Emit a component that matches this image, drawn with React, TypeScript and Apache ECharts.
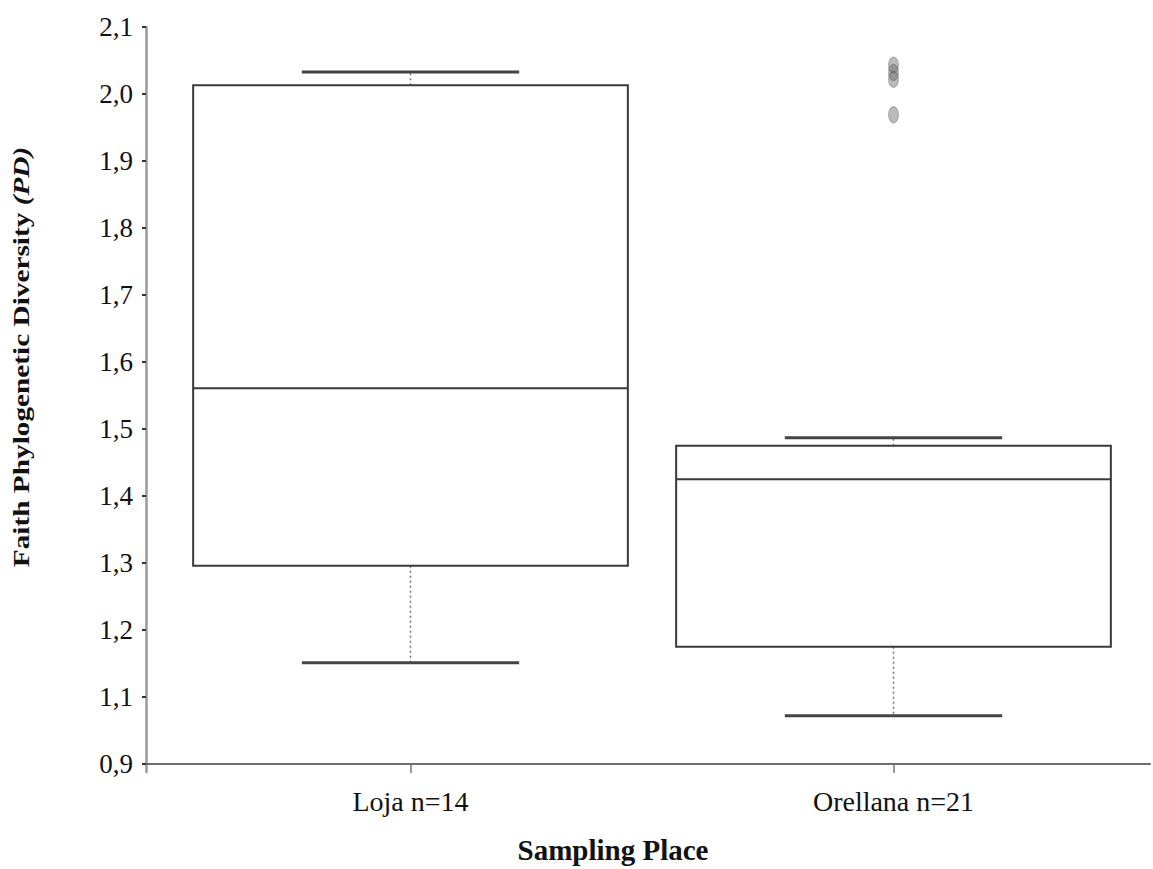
import React, { useEffect, useRef } from "react";
import * as echarts from "echarts";

const categories = ["Loja n=14", "Orellana n=21"];
const whiskerLow = [1.151, 1.072];
const q1 = [1.296, 1.175];
const median = [1.561, 1.425];
const q3 = [2.013, 1.475];
const whiskerHigh = [2.033, 1.487];
const outliers: [number, number][] = [
  [1, 2.043],
  [1, 2.032],
  [1, 2.022],
  [1, 1.969],
];
// tick labels at 1.0 ... 2.1 (bottom tick labelled "0,9" as in the original broken axis)
const yTickLabels = ["0,9", "1,1", "1,2", "1,3", "1,4", "1,5", "1,6", "1,7", "1,8", "1,9", "2,0", "2,1"];
const yMin = 1.0;
const yMax = 2.1;
const yStep = 0.1;

const SERIF = "'Liberation Serif', 'Times New Roman', serif";

export default function App() {
  const ref = useRef<HTMLDivElement>(null);
  useEffect(() => {
    if (!ref.current) return;
    const chart = echarts.init(ref.current, null, { renderer: "svg" });
    const boxData = categories.map((_, i) => [i, whiskerLow[i], q1[i], median[i], q3[i], whiskerHigh[i]]);
    const option: any = {
      animation: false,
      backgroundColor: "#ffffff",
      grid: [
        { left: 169, right: 18, top: 27, bottom: 105 },
        { left: 146, right: 3, top: 27, bottom: 105 },
        { left: 146, right: 3, top: 27, bottom: 97 },
      ],
      xAxis: [
        {
          type: "category",
          gridIndex: 0,
          data: categories,
          boundaryGap: true,
          axisLine: { show: false },
          axisTick: { show: true, alignWithLabel: true, length: 9, lineStyle: { color: "#777", width: 1.5 } },
          axisLabel: { color: "#111", fontFamily: SERIF, fontSize: 28, margin: 23 },
          splitLine: { show: false },
        },
        {
          type: "value",
          gridIndex: 1,
          min: 0,
          max: 1,
          axisLine: { show: true, lineStyle: { color: "#6e6e6e", width: 2.2 } },
          axisTick: { show: false },
          axisLabel: { show: false },
          splitLine: { show: false },
        },
        {
          type: "value",
          gridIndex: 2,
          min: 0,
          max: 1,
          show: false,
        },
      ],
      yAxis: [
        {
          type: "value",
          gridIndex: 0,
          min: yMin,
          max: yMax,
          interval: yStep,
          offset: 23,
          axisLine: { show: false },
          axisTick: { show: true, length: 4, lineStyle: { color: "#333", width: 2 } },
          axisLabel: {
            color: "#111",
            fontFamily: SERIF,
            fontSize: 27,
            margin: 13,
            formatter: (v: number) => {
              const idx = Math.round((v - yMin) / yStep);
              return yTickLabels[idx] ?? "";
            },
          },
          splitLine: { show: false },
        },
        { type: "value", gridIndex: 1, min: 0, max: 1, show: false },
        {
          type: "value",
          gridIndex: 2,
          min: 0,
          max: 1,
          axisLine: { show: true, lineStyle: { color: "#9a9a9a", width: 2.5 } },
          axisTick: { show: false },
          axisLabel: { show: false },
          splitLine: { show: false },
        },
      ],
      series: [
        {
          type: "custom",
          xAxisIndex: 0,
          yAxisIndex: 0,
          data: boxData,
          encode: { x: 0, y: [1, 2, 3, 4, 5] },
          renderItem: (params: any, api: any) => {
            const idx = api.value(0);
            const pLow = api.coord([idx, api.value(1)]);
            const pQ1 = api.coord([idx, api.value(2)]);
            const pMed = api.coord([idx, api.value(3)]);
            const pQ3 = api.coord([idx, api.value(4)]);
            const pHigh = api.coord([idx, api.value(5)]);
            const band = api.size([1, 0])[0];
            const halfBox = band * 0.45;
            const halfCap = halfBox / 2;
            const cx = pMed[0];
            const dashed = { stroke: "#777", lineWidth: 1.5, lineDash: [2, 3] };
            return {
              type: "group",
              children: [
                {
                  type: "line",
                  shape: { x1: cx, y1: pQ3[1], x2: cx, y2: pHigh[1] },
                  style: dashed,
                },
                {
                  type: "line",
                  shape: { x1: cx, y1: pQ1[1], x2: cx, y2: pLow[1] },
                  style: dashed,
                },
                {
                  type: "rect",
                  shape: { x: cx - halfBox, y: pQ3[1], width: halfBox * 2, height: pQ1[1] - pQ3[1] },
                  style: { fill: "none", stroke: "#3a3a3a", lineWidth: 2 },
                },
                {
                  type: "line",
                  shape: { x1: cx - halfBox, y1: pMed[1], x2: cx + halfBox, y2: pMed[1] },
                  style: { stroke: "#3a3a3a", lineWidth: 2 },
                },
                {
                  type: "line",
                  shape: { x1: cx - halfCap, y1: pHigh[1], x2: cx + halfCap, y2: pHigh[1] },
                  style: { stroke: "#444", lineWidth: 3 },
                },
                {
                  type: "line",
                  shape: { x1: cx - halfCap, y1: pLow[1], x2: cx + halfCap, y2: pLow[1] },
                  style: { stroke: "#444", lineWidth: 3 },
                },
              ],
            };
          },
          z: 3,
        },
        {
          type: "scatter",
          xAxisIndex: 0,
          yAxisIndex: 0,
          data: outliers,
          symbol: "circle",
          symbolSize: [10, 16],
          itemStyle: { color: "rgba(100,100,100,0.55)", borderColor: "rgba(90,90,90,0.5)", borderWidth: 1 },
          z: 4,
        },
      ],
      graphic: [
        {
          type: "text",
          x: 21,
          y: 357,
          rotation: Math.PI / 2,
          scaleX: 1.22,
          style: {
            text: "{b|Faith Phylogenetic Diversity }{i|(PD)}",
            rich: {
              b: { fill: "#111", fontFamily: SERIF, fontWeight: "bold", fontSize: 24 },
              i: { fill: "#111", fontFamily: SERIF, fontWeight: "bold", fontStyle: "italic", fontSize: 24 },
            },
            align: "center",
            verticalAlign: "middle",
          },
          silent: true,
        },
        {
          type: "text",
          x: 613,
          y: 850,
          style: {
            text: "Sampling Place",
            fill: "#111",
            font: `bold 29px ${SERIF}`,
            align: "center",
            verticalAlign: "middle",
          },
          silent: true,
        },
      ],
    };
    chart.setOption(option);
    return () => chart.dispose();
  }, []);
  return (
    <div
      ref={ref}
      style={{ position: "fixed", left: 0, top: 0, width: 1153, height: 869, background: "#fff" }}
    />
  );
}
